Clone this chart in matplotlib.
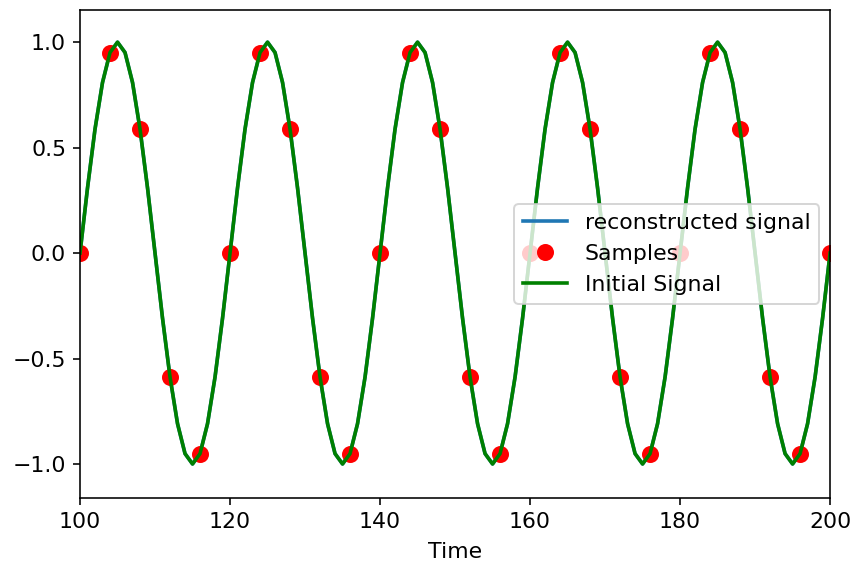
import matplotlib
matplotlib.use('Agg')
from matplotlib import pyplot as plt

# one period of the initial signal, sampled every 1 time unit
period = [0.0, 0.309, 0.588, 0.809, 0.951, 1.0, 0.951, 0.809, 0.588, 0.309,
          0.0, -0.309, -0.588, -0.809, -0.951, -1.0, -0.951, -0.809, -0.588, -0.309]
time = list(range(100, 201))
initial = period * 5 + [0.0]
reconstructed = period * 5 + [0.0]

sample_time = list(range(100, 201, 4))
sample_vals = [0.0, 0.951, 0.588, -0.588, -0.951] * 5 + [0.0]

plt.rcParams['font.size'] = 11
fig = plt.figure(figsize=(854 / 144, 562 / 144), dpi=144)
ax = fig.add_axes([0.0937, 0.114, 0.8783, 0.868])

ax.plot(time, reconstructed, color='#1f77b4', lw=1.8, label='reconstructed signal')
ax.plot(sample_time, sample_vals, 'o', color='red', markersize=7.5, label='Samples')
ax.plot(time, initial, color='green', lw=1.8, label='Initial Signal')

ax.set_xlim(100, 200)
ax.set_ylim(-1.161, 1.152)
ax.set_xticks([100, 120, 140, 160, 180, 200])
ax.set_yticks([-1.0, -0.5, 0.0, 0.5, 1.0])
ax.set_xlabel('Time', labelpad=5)
ax.legend(loc='center right', framealpha=0.8)

fig.savefig('out.png', dpi=144)
